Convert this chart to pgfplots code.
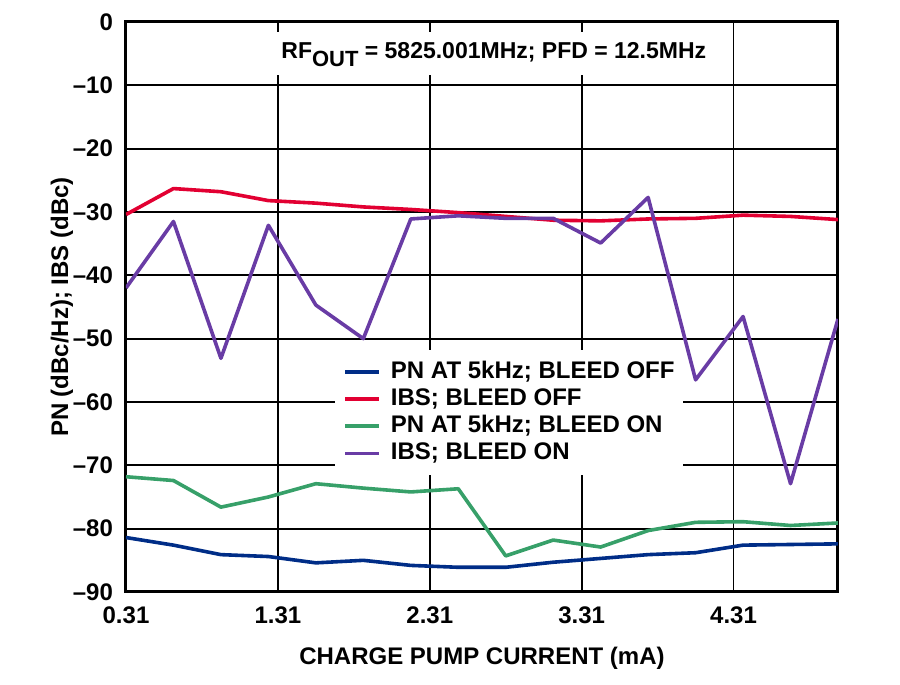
\documentclass[border=0pt]{standalone}
\usepackage{pgfplots}
\pgfplotsset{compat=1.18}
\usepackage{fontspec}
\setmainfont{Liberation Sans}
\definecolor{cblue}{RGB}{0,45,135}
\definecolor{cred}{RGB}{226,0,50}
\definecolor{cgreen}{RGB}{55,160,105}
\definecolor{cpurple}{RGB}{105,60,165}
\newcommand\f{\fontsize{12}{14}\selectfont\bfseries}
\begin{document}
\begin{tikzpicture}
\begin{axis}[
  scale only axis, width=356pt, height=285pt,
  xmin=0.3125, xmax=5, ymin=-90, ymax=0,
  xtick={0.3125,1.3125,2.3125,3.3125,4.3125},
  xticklabels={0.31,1.31,2.31,3.31,4.31},
  ytick={-90,-80,-70,-60,-50,-40,-30,-20,-10,0},
  yticklabels={–90,–80,–70,–60,–50,–40,–30,–20,–10,0},
  major tick length=0pt,
  grid=major,
  major grid style={black, line width=0.9pt},
  axis line style={black, line width=1.5pt},
  ticklabel style={font=\f},
  xticklabel style={yshift=-4pt},
  yticklabel style={xshift=-3pt},
  xlabel={CHARGE PUMP CURRENT (mA)},
  ylabel={PN (dBc/Hz); IBS (dBc)},
  every axis x label/.style={at={(axis description cs:0.5,-0.116)}, anchor=center, font=\f},
  every axis y label/.style={at={(axis description cs:-0.09,0.5)}, anchor=center, rotate=90, font=\f},
  legend style={at={(rel axis cs:0.2935,0.4246)}, anchor=north west, draw=none, fill=white,
    font=\f, legend cell align=left, inner xsep=4pt, inner ysep=5pt,
    row sep=2.1pt,
    nodes={inner sep=0pt, text height=9pt, text depth=2.5pt},
    /tikz/every odd column/.append style={column sep=5pt}},
  legend image code/.code={\draw[#1, line width=1.8pt] (0pt,0pt) -- (17pt,0pt);},
  every axis plot/.append style={line width=1.8pt, line join=round},
]
\addplot[cblue] coordinates {
(0.3125,-81.4) (0.625,-82.6) (0.9375,-84.1) (1.25,-84.4) (1.5625,-85.4) (1.875,-85.0)
(2.1875,-85.8) (2.5,-86.1) (2.8125,-86.1) (3.125,-85.3) (3.4375,-84.7) (3.75,-84.1)
(4.0625,-83.8) (4.375,-82.6) (4.6875,-82.5) (5.0,-82.4)};
\addlegendentry{PN AT 5kHz; BLEED OFF}
\addplot[cred] coordinates {
(0.3125,-30.4) (0.625,-26.3) (0.9375,-26.8) (1.25,-28.2) (1.5625,-28.6) (1.875,-29.2)
(2.1875,-29.6) (2.5,-30.1) (2.8125,-30.7) (3.125,-31.3) (3.4375,-31.4) (3.75,-31.1)
(4.0625,-31.0) (4.375,-30.5) (4.6875,-30.7) (5.0,-31.2)};
\addlegendentry{IBS; BLEED OFF}
\addplot[cgreen] coordinates {
(0.3125,-71.8) (0.625,-72.4) (0.9375,-76.6) (1.25,-75.0) (1.5625,-72.9) (1.875,-73.6)
(2.1875,-74.2) (2.5,-73.7) (2.8125,-84.3) (3.125,-81.8) (3.4375,-82.9) (3.75,-80.3)
(4.0625,-79.0) (4.375,-78.9) (4.6875,-79.5) (5.0,-79.1)};
\addlegendentry{PN AT 5kHz; BLEED ON}
\addplot[cpurple] coordinates {
(0.3125,-42.0) (0.625,-31.5) (0.9375,-53.1) (1.25,-32.1) (1.5625,-44.7) (1.875,-50.0)
(2.1875,-31.1) (2.5,-30.6) (2.8125,-31.0) (3.125,-31.0) (3.4375,-34.9) (3.75,-27.7)
(4.0625,-56.5) (4.375,-46.5) (4.6875,-72.9) (5.0,-46.9)};
\addlegendentry{IBS; BLEED ON}
\node[fill=white, inner xsep=4pt, inner ysep=0pt, text height=13pt, text depth=8.3pt, anchor=base,
  font=\fontsize{11.5}{14}\selectfont\bfseries] at (axis cs:2.734,-5.74)
  {RF\raisebox{-4pt}{\fontsize{11}{13}\selectfont OUT} = 5825.001MHz; PFD = 12.5MHz};
\node[rotate=90, font=\fontsize{8}{9}\selectfont, anchor=center] at (axis description cs:1.059,-0.014) {10729-005};
\end{axis}
\pgfresetboundingbox
\path[use as bounding box] ([shift={(-63pt,-46.5pt)}]current axis.south west) rectangle ([shift={(31pt,11pt)}]current axis.north east);
\end{tikzpicture}
\end{document}
